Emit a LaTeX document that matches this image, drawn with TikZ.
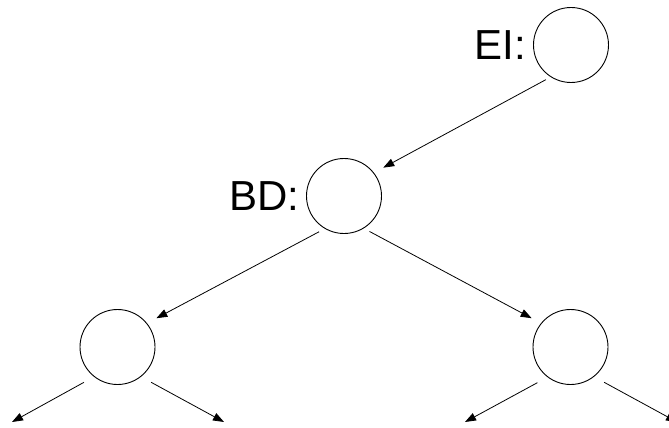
\documentclass[tikz,border=0pt]{standalone}
\usepackage{fontspec}
\setmainfont{Liberation Sans}
\usetikzlibrary{arrows.meta}
\begin{document}
\begin{tikzpicture}[x=1pt,y=-1pt,
  treenode/.style={circle,draw,line width=0.9pt,minimum size=75pt,inner sep=0pt,outer sep=0pt},
  tag/.style={label distance=7pt,font=\fontsize{42pt}{46pt}\selectfont,inner sep=0pt},
  edge/.style={line width=0.8pt,-{Triangle[length=11pt,width=8pt]}}]
  \clip (0,0) rectangle (669,428);
  % tree nodes
  \node[treenode,label={[tag]left:EI:}] (ei) at (571,45) {};
  \node[treenode,label={[tag]left:BD:}] (bd) at (344,196) {};
  \node[treenode] (bl) at (117.5,347) {};
  \node[treenode] (br) at (570.5,347) {};
  % loose ends of the lowest branches
  \coordinate (l1) at (12,422);
  \coordinate (l2) at (224,422);
  \coordinate (l3) at (465,422);
  \coordinate (l4) at (677,422);
  % branches
  \draw[edge,shorten <=6pt,shorten >=11pt] (ei.238) -- (bd.38);
  \draw[edge,shorten <=7pt,shorten >=11pt] (bd.240) -- (bl.39);
  \draw[edge,shorten <=7pt,shorten >=11pt] (bd.301) -- (br.141);
  \draw[edge,shorten <=12pt] (bl.232) -- (l1);
  \draw[edge,shorten <=12pt] (bl.308) -- (l2);
  \draw[edge,shorten <=12pt] (br.233) -- (l3);
  \draw[edge,shorten <=12pt] (br.308) -- (l4);
\end{tikzpicture}
\end{document}
